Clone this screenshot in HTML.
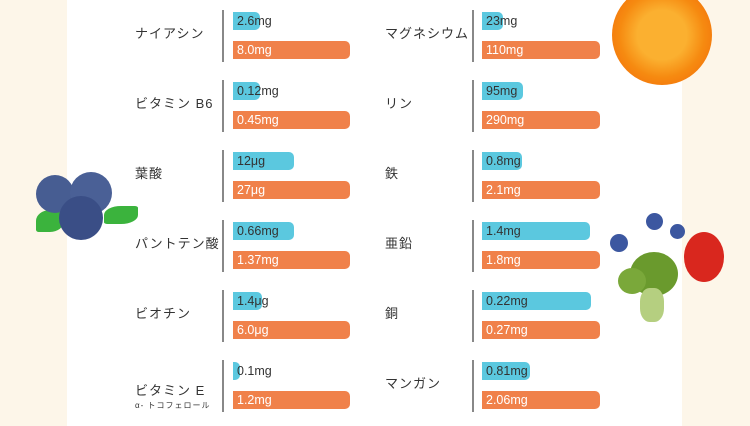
<!DOCTYPE html>
<html><head><meta charset="utf-8"><style>
body{margin:0;width:750px;height:426px;overflow:hidden;background:#fdf6e9;font-family:"Liberation Sans","Noto Sans CJK JP",sans-serif;position:relative}
.panel{position:absolute;left:67px;top:0;width:615px;height:426px;background:#fff}
.lab{position:absolute;font-size:13px;color:#333;letter-spacing:1px;line-height:16px}
.div{position:absolute;width:2px;height:52px;background:#888}
.bar{position:absolute;height:18px;border-radius:0 5px 5px 0;font-size:12.5px;line-height:18px;padding-left:4px;box-sizing:border-box;white-space:nowrap}
.b{background:#5bc8df;color:#333}
.o{background:#f0814a;color:#fff}
.c{position:absolute;border-radius:50%}
</style></head><body>
<div class="panel"></div>
<div id="c"></div>
<!-- decorations -->
<div class="c" style="left:612px;top:-15px;width:100px;height:100px;background:radial-gradient(circle,#fbb030 0 35%,#f68a10 60%,#f36e0b 88%,#ffe6b8 90%,#f26c0a 95%)"></div>
<div class="c" style="left:36px;top:210px;width:28px;height:22px;background:#3bb33d;border-radius:50% 10%"></div>
<div class="c" style="left:104px;top:206px;width:34px;height:18px;background:#3bb33d;border-radius:50% 10%"></div>
<div class="c" style="left:36px;top:175px;width:38px;height:38px;background:#475d92"></div>
<div class="c" style="left:70px;top:172px;width:42px;height:42px;background:#4a6096"></div>
<div class="c" style="left:59px;top:196px;width:44px;height:44px;background:#3a4e86"></div>
<div class="c" style="left:610px;top:234px;width:18px;height:18px;background:#3c57a0"></div>
<div class="c" style="left:646px;top:213px;width:17px;height:17px;background:#3c57a0"></div>
<div class="c" style="left:670px;top:224px;width:15px;height:15px;background:#3c57a0"></div>
<div class="c" style="left:684px;top:232px;width:40px;height:50px;background:#d9271e"></div>
<div class="c" style="left:630px;top:252px;width:48px;height:44px;background:#6a9a2d"></div>
<div class="c" style="left:618px;top:268px;width:28px;height:26px;background:#7aa83a"></div>
<div class="c" style="left:640px;top:288px;width:24px;height:34px;background:#b5cf80;border-radius:40%"></div>
<script>
const rows=[
["ナイアシン","2.6mg",260,"8.0mg",350,"マグネシウム","23mg",503,"110mg",600],
["ビタミン B6","0.12mg",260,"0.45mg",350,"リン","95mg",523,"290mg",600],
["葉酸","12μg",294,"27μg",350,"鉄","0.8mg",522,"2.1mg",600],
["パントテン酸","0.66mg",294,"1.37mg",350,"亜鉛","1.4mg",590,"1.8mg",600],
["ビオチン","1.4μg",262,"6.0μg",350,"銅","0.22mg",591,"0.27mg",600],
["ビタミン E","0.1mg",240,"1.2mg",350,"マンガン","0.81mg",530,"2.06mg",600]];
let h="";
rows.forEach((r,i)=>{const t=10+70*i;
[[135,222,233,0],[385,472,482,5]].forEach(([lx,dx,bx,k])=>{
 const ly=(i==5&&k==0)?t+58-35:t+16;
 h+=`<div class="lab" style="left:${lx}px;top:${ly}px">${r[k]}</div>`;
 h+=`<div class="div" style="left:${dx}px;top:${t}px"></div>`;
 const bw=r[k+2]-bx; const over=bw<50;
 h+=`<div class="bar b" style="left:${bx}px;top:${t+2}px;width:${bw}px">${r[k+1]}</div>`;
 h+=`<div class="bar o" style="left:${bx}px;top:${t+31}px;width:${r[k+4]-bx}px">${r[k+3]}</div>`;
});});
h+=`<div class="lab" style="left:135px;top:398px;font-size:8px;letter-spacing:1px">α- トコフェロール</div>`;
document.getElementById("c").innerHTML=h;
</script>
<style>.bar.b{overflow:visible}</style>
</body></html>
